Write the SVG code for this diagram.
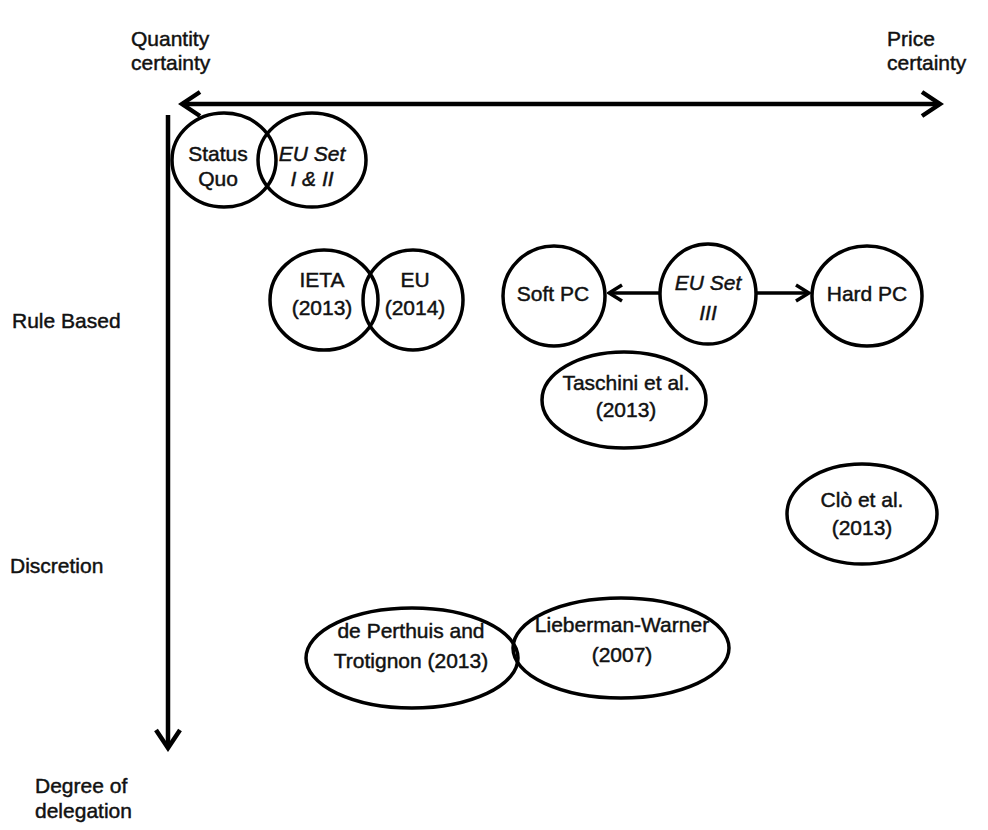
<svg xmlns="http://www.w3.org/2000/svg" width="988" height="830" viewBox="0 0 988 830">
<style>
.t{font-family:"Liberation Sans",Arial,sans-serif;font-size:21px;fill:#111;stroke:#111;stroke-width:0.45;text-anchor:middle}
.l{font-family:"Liberation Sans",Arial,sans-serif;font-size:21px;fill:#111;stroke:#111;stroke-width:0.45}
.i{font-style:italic}
.n{fill:#fff;stroke:#000;stroke-width:3.5}
.o{fill:none;stroke:#000;stroke-width:3.5}
.ax{stroke:#000;stroke-width:4.5;fill:none}
.ar{stroke:#000;stroke-width:3.5;fill:none}
</style>
<defs>
<marker id="big" markerUnits="userSpaceOnUse" viewBox="-2 -2 26 30" refX="20" refY="13" markerWidth="26" markerHeight="30" orient="auto-start-reverse">
<path d="M2,1 L20,13 L2,25" fill="none" stroke="#000" stroke-width="4.5"/>
</marker>
<marker id="sm" markerUnits="userSpaceOnUse" viewBox="-2 -2 18 22" refX="14" refY="9" markerWidth="18" markerHeight="22" orient="auto">
<path d="M1,1 L14,9 L1,17" fill="none" stroke="#000" stroke-width="3.5"/>
</marker>
</defs>
<g id="labels">
<text class="l" x="131" y="46">Quantity</text>
<text class="l" x="131" y="70">certainty</text>
<text class="l" x="887" y="46">Price</text>
<text class="l" x="887" y="70">certainty</text>
<text class="l" x="12" y="328">Rule Based</text>
<text class="l" x="10" y="573">Discretion</text>
<text class="l" x="35" y="793">Degree of</text>
<text class="l" x="35" y="818">delegation</text>
</g>
<g id="connectors">
<line class="ax" x1="182" y1="104" x2="940" y2="104" marker-start="url(#big)" marker-end="url(#big)"/>
<line class="ax" x1="168" y1="115" x2="168" y2="748" marker-end="url(#big)"/>
<line class="ar" x1="660" y1="293" x2="609" y2="293" marker-end="url(#sm)"/>
<line class="ar" x1="757" y1="293" x2="809" y2="293" marker-end="url(#sm)"/>
</g>
<g id="status-quo">
<ellipse class="o" cx="224" cy="160" rx="52" ry="47"/>
<text class="t" x="218" y="161">Status</text>
<text class="t" x="218" y="186">Quo</text>
</g>
<g id="eu-set-1-2">
<ellipse class="o" cx="312" cy="160" rx="54" ry="47"/>
<text class="t i" x="312" y="161">EU Set</text>
<text class="t i" x="312" y="186">I &amp; II</text>
</g>
<g id="ieta">
<ellipse class="o" cx="324" cy="300" rx="54" ry="50"/>
<text class="t" x="322" y="287">IETA</text>
<text class="t" x="322" y="315">(2013)</text>
</g>
<g id="eu-2014">
<ellipse class="o" cx="413" cy="300" rx="50" ry="50"/>
<text class="t" x="415" y="287">EU</text>
<text class="t" x="415" y="315">(2014)</text>
</g>
<g id="soft-pc">
<ellipse class="n" cx="554" cy="296" rx="51" ry="50"/>
<text class="t" x="553" y="301">Soft PC</text>
</g>
<g id="eu-set-3">
<ellipse class="n" cx="708" cy="294" rx="48" ry="50"/>
<text class="t i" x="708" y="290">EU Set</text>
<text class="t i" x="708" y="320">III</text>
</g>
<g id="hard-pc">
<ellipse class="n" cx="867" cy="296" rx="55" ry="50"/>
<text class="t" x="867" y="301">Hard PC</text>
</g>
<g id="taschini">
<ellipse class="n" cx="624" cy="400" rx="82" ry="48"/>
<text class="t" x="626" y="390">Taschini et al.</text>
<text class="t" x="626" y="417">(2013)</text>
</g>
<g id="clo">
<ellipse class="n" cx="862" cy="514" rx="75" ry="50"/>
<text class="t" x="862" y="507">Clò et al.</text>
<text class="t" x="862" y="535">(2013)</text>
</g>
<g id="lieberman">
<ellipse class="o" cx="621" cy="648" rx="108" ry="50"/>
<text class="t" x="622" y="632">Lieberman-Warner</text>
<text class="t" x="622" y="662">(2007)</text>
</g>
<g id="de-perthuis">
<ellipse class="o" cx="412" cy="658" rx="106" ry="50"/>
<text class="t" x="411" y="638">de Perthuis and</text>
<text class="t" x="411" y="668">Trotignon (2013)</text>
</g>
</svg>
